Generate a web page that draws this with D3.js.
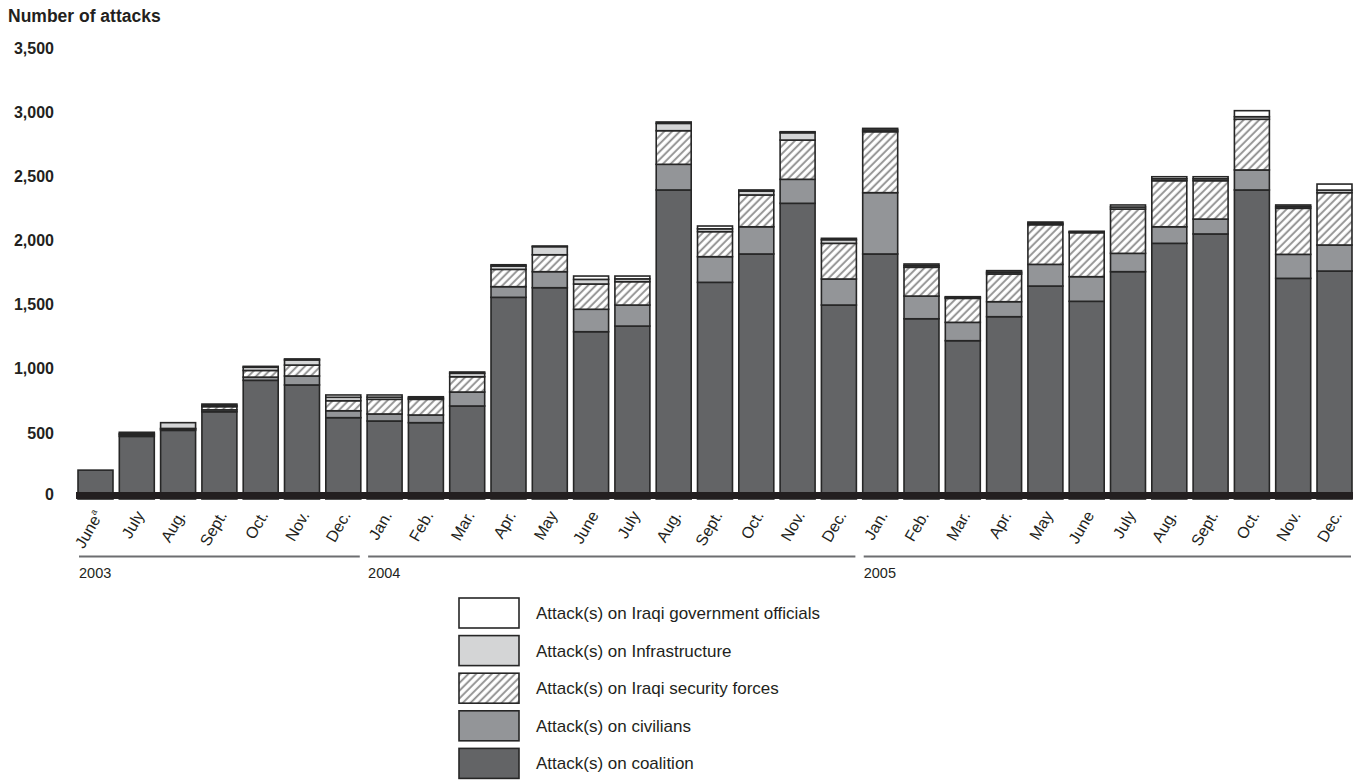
<!DOCTYPE html>
<html>
<head>
<meta charset="utf-8">
<script src="https://cdn.jsdelivr.net/npm/d3@7"></script>
<style>
  html, body { margin: 0; padding: 0; background: #fff; }
  svg { display: block; font-family: "Liberation Sans", Arial, Helvetica, sans-serif; }
</style>
</head>
<body>
<svg id="chart" width="1361" height="780"></svg>
<script>
// ---- data ----
const months = ["June","July","Aug.","Sept.","Oct.","Nov.","Dec.",
  "Jan.","Feb.","Mar.","Apr.","May","June","July","Aug.","Sept.","Oct.","Nov.","Dec.",
  "Jan.","Feb.","Mar.","Apr.","May","June","July","Aug.","Sept.","Oct.","Nov.","Dec."];
const years = ["2003","2004","2005"];
const yearStart = [0, 7, 19];
const yearEnd = [6, 18, 30];

const coalition      = [225, 488, 535, 680, 925, 889, 634, 608, 595, 725, 1572, 1647, 1304, 1348, 2409, 1689, 1910, 2305, 1512, 1910, 1405, 1234, 1421, 1660, 1541, 1772, 1993, 2066, 2409, 1720, 1777];
const civilians      = [0, 12, 10, 15, 25, 70, 54, 55, 60, 109, 83, 125, 175, 164, 200, 200, 212, 187, 203, 478, 177, 143, 117, 169, 192, 143, 129, 116, 156, 187, 203];
const security       = [0, 10, 5, 25, 52, 85, 78, 114, 122, 119, 135, 132, 197, 182, 262, 195, 248, 306, 278, 475, 224, 187, 216, 309, 343, 345, 359, 299, 395, 359, 408];
const infrastructure = [0, 10, 45, 10, 25, 40, 27, 17, 10, 27, 26, 63, 36, 22, 57, 22, 30, 57, 28, 13, 13, 8, 13, 11, 6, 16, 15, 15, 20, 13, 20];
const government     = [0, 0, 0, 10, 7, 8, 18, 17, 10, 10, 10, 5, 26, 22, 11, 22, 9, 8, 11, 13, 13, 5, 13, 10, 5, 16, 16, 16, 47, 13, 47];

const yTicks = [0, 500, 1000, 1500, 2000, 2500, 3000, 3500];

const seriesKeys = ["coalition","civilians","security","infrastructure","government"];
const seriesLabels = {
  government: "Attack(s) on Iraqi government officials",
  infrastructure: "Attack(s) on Infrastructure",
  security: "Attack(s) on Iraqi security forces",
  civilians: "Attack(s) on civilians",
  coalition: "Attack(s) on coalition"
};
const legendOrder = ["government","infrastructure","security","civilians","coalition"];

// ---- build table ----
const table = months.map((m, i) => ({
  idx: i, month: m,
  coalition: coalition[i], civilians: civilians[i], security: security[i],
  infrastructure: infrastructure[i], government: government[i]
}));

const svg = d3.select("#chart");
const defs = svg.append("defs");
const pat = defs.append("pattern")
  .attr("id", "hatch").attr("patternUnits", "userSpaceOnUse")
  .attr("width", 5.5).attr("height", 5.5)
  .attr("patternTransform", "rotate(45)");
pat.append("rect").attr("width", 5.5).attr("height", 5.5).attr("fill", "#fff");
pat.append("line").attr("x1", 1.6).attr("y1", 0).attr("x2", 1.6).attr("y2", 5.5)
  .attr("stroke", "#8a8a8a").attr("stroke-width", 1.8);

const fills = {
  coalition: "#636466",
  civilians: "#939598",
  security: "url(#hatch)",
  infrastructure: "#d4d5d6",
  government: "#ffffff"
};
const strokeCol = "#262626";

// ---- scales ----
const x = d3.scaleBand().domain(d3.range(months.length))
  .range([74.85, 1355.15]).paddingInner(0.153).paddingOuter(0.0765);
const y = d3.scaleLinear().domain([0, 3500]).range([499, 50]);

// ---- stacked bars ----
const stack = d3.stack().keys(seriesKeys);
const stacked = stack(table);

const layers = svg.append("g").selectAll("g").data(stacked).join("g")
  .attr("fill", d => fills[d.key]);
layers.selectAll("rect").data(d => d.filter(s => s[1] - s[0] > 0)).join("rect")
  .attr("x", d => x(d.data.idx))
  .attr("width", x.bandwidth())
  .attr("y", d => y(d[1]))
  .attr("height", d => y(d[0]) - y(d[1]))
  .attr("stroke", strokeCol)
  .attr("stroke-width", 1.6);

// ---- baseline ----
svg.append("rect")
  .attr("x", 76).attr("y", y(0) - 7)
  .attr("width", 1353 - 76).attr("height", 7)
  .attr("fill", "#231f20");

// ---- y axis (labels only) ----
const yAxis = d3.axisLeft(y).tickValues(yTicks).tickSize(0).tickPadding(0)
  .tickFormat(d3.format(","));
const yg = svg.append("g").attr("transform", "translate(54,0)").call(yAxis);
yg.select(".domain").remove();
yg.selectAll("text").attr("font-size", 16).attr("font-weight", "bold")
  .attr("fill", "#231f20").attr("font-family", "Liberation Sans, Arial, sans-serif")
  .attr("dy", "0.2em");
yg.selectAll(".tick").filter(d => d === 0).select("text").attr("dy", "0.05em");

svg.append("text").attr("x", 8).attr("y", 22)
  .attr("font-size", 17.5).attr("font-weight", "bold").attr("fill", "#231f20")
  .text("Number of attacks");

// ---- x labels ----
const xl = svg.append("g");
xl.selectAll("text").data(table).join("text")
  .attr("transform", d => `translate(${x(d.idx) + x.bandwidth() / 2 + 8},${515}) rotate(-60)`)
  .attr("text-anchor", "end")
  .attr("font-size", 16)
  .attr("fill", "#231f20")
  .each(function(d) {
    const t = d3.select(this);
    t.append("tspan").text(d.month);
    if (d.idx === 0) {
      t.append("tspan").attr("font-size", 9).attr("dy", -7).text("a");
    }
  });

// ---- year lines ----
const yrs = years.map((yr, i) => ({ yr, s: yearStart[i], e: yearEnd[i] }));
svg.append("g").selectAll("line").data(yrs).join("line")
  .attr("x1", d => x(d.s) + 1)
  .attr("x2", d => x(d.e) + x.bandwidth() - 1)
  .attr("y1", 556.5).attr("y2", 556.5)
  .attr("stroke", "#6d6e71").attr("stroke-width", 2);
svg.append("g").selectAll("text").data(yrs).join("text")
  .attr("x", d => x(d.s) + 1).attr("y", 578)
  .attr("font-size", 14.5).attr("fill", "#231f20")
  .text(d => d.yr);

// ---- legend ----
const lg = svg.append("g").attr("transform", "translate(459,598)");
const li = lg.selectAll("g").data(legendOrder).join("g")
  .attr("transform", (d, i) => `translate(0,${i * 37.6})`);
li.append("rect").attr("width", 60).attr("height", 30)
  .attr("fill", d => fills[d]).attr("stroke", strokeCol).attr("stroke-width", 1.6);
li.append("text").attr("x", 77).attr("y", 15).attr("dy", "0.35em")
  .attr("font-size", 17).attr("fill", "#231f20")
  .text(d => seriesLabels[d]);
</script>
</body>
</html>
